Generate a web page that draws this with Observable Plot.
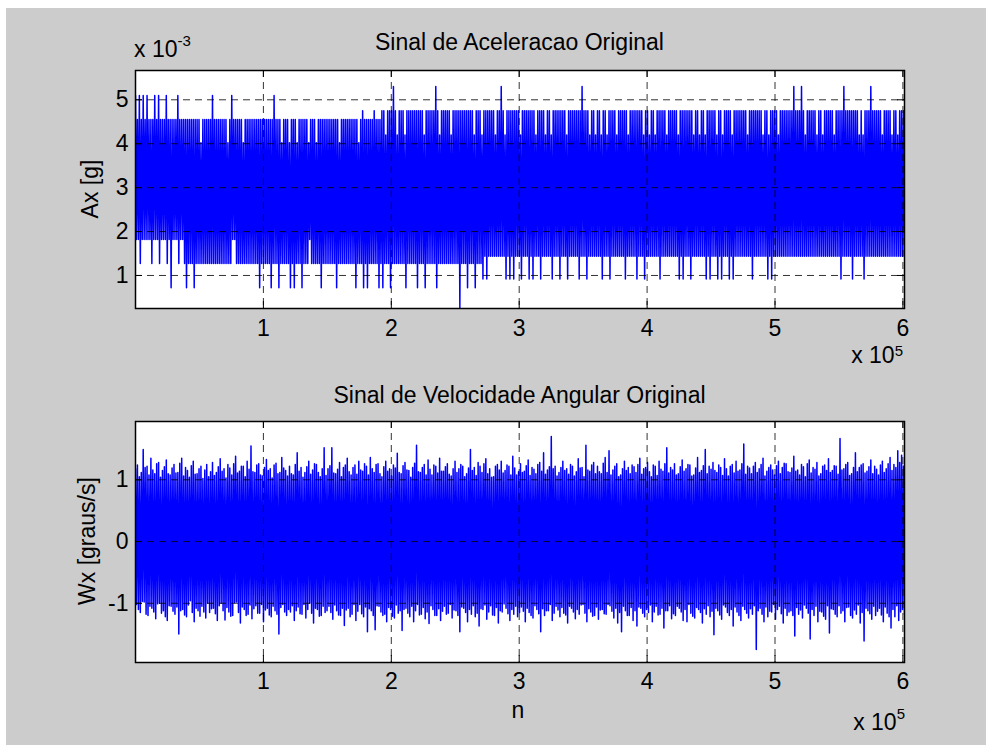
<!DOCTYPE html>
<html>
<head>
<meta charset="utf-8">
<script src="https://cdn.jsdelivr.net/npm/d3@7"></script>
<script src="https://cdn.jsdelivr.net/npm/@observablehq/plot@0.6"></script>
<style>
  html, body { margin: 0; padding: 0; background: #ffffff; }
  #page { position: relative; width: 986px; height: 745px; overflow: hidden; }
  #bg { position: absolute; left: 6px; top: 8px; width: 980px; height: 737px; background: #cccccc; }
  .panel { position: absolute; left: 0; }
  #labels { position: absolute; left: 0; top: 0; pointer-events: none; }
</style>
</head>
<body>
<div id="page">
  <div id="bg"></div>
  <div id="top" class="panel" style="top:0px"></div>
  <div id="bottom" class="panel" style="top:380px"></div>
  <svg id="labels" width="986" height="745"></svg>
</div>
<script>
// Sample index range of the recording
const nFirst = 1;
const nLast = 601250;

// Tick values
const xTicks = [100000, 200000, 300000, 400000, 500000, 600000];
const axTicks = [1, 2, 3, 4, 5];
const wxTicks = [-1, 0, 1];

// Accelerometer Ax, in units of 10^-3 g: successive high / low excursions along the record
const axHigh = [
  5.10, 4.55, 5.10, 4.55, 5.10, 4.55, 5.10, 4.55, 4.55, 4.55, 5.10, 4.55, 5.10, 4.55, 4.55, 4.55, 5.10, 4.55, 4.55, 4.55,
  4.55, 4.55, 5.10, 4.55, 4.55, 4.55, 4.55, 4.55, 4.55, 4.55, 4.55, 4.55, 4.55, 4.55, 4.02, 4.55, 4.55, 4.55, 4.55, 4.55,
  5.10, 4.55, 4.55, 4.55, 4.55, 4.55, 4.55, 4.55, 4.02, 4.55, 5.10, 4.55, 4.55, 4.55, 4.55, 4.55, 4.02, 4.55, 4.55, 4.55,
  4.55, 4.55, 4.55, 4.55, 4.55, 4.55, 4.55, 4.55, 4.55, 4.55, 4.55, 4.55, 5.10, 4.55, 4.55, 4.55, 4.02, 4.55, 4.55, 4.55,
  4.02, 4.55, 4.55, 4.55, 4.02, 4.55, 4.55, 4.55, 4.55, 4.55, 4.02, 4.55, 4.55, 4.55, 4.02, 4.55, 4.55, 4.55, 4.55, 4.55,
  4.55, 4.55, 4.55, 4.55, 4.55, 4.55, 4.02, 4.55, 4.55, 4.55, 4.55, 4.55, 4.55, 4.55, 4.55, 4.55, 4.02, 4.55, 4.75, 4.55,
  4.55, 4.55, 4.55, 4.55, 4.75, 4.55, 4.55, 4.55, 4.75, 4.75, 4.20, 4.75, 4.75, 4.75, 5.30, 4.75, 4.20, 4.75, 4.75, 4.75,
  4.20, 4.75, 4.75, 4.75, 4.75, 4.75, 4.75, 4.75, 4.75, 4.75, 4.20, 4.75, 4.75, 4.75, 4.75, 4.75, 5.30, 4.75, 4.20, 4.75,
  4.75, 4.75, 4.75, 4.75, 4.20, 4.75, 4.75, 4.75, 4.75, 4.75, 4.75, 4.75, 4.75, 4.75, 4.75, 4.75, 4.20, 4.75, 4.75, 4.75,
  4.20, 4.75, 4.75, 4.75, 4.75, 4.75, 4.75, 4.20, 4.75, 4.75, 5.30, 4.75, 4.20, 4.75, 4.75, 4.75, 4.75, 4.75, 4.75, 4.75,
  4.20, 4.75, 4.75, 4.75, 4.75, 4.75, 4.75, 4.75, 4.20, 4.75, 4.75, 4.75, 4.75, 4.20, 4.75, 4.75, 4.20, 4.75, 4.75, 4.75,
  4.75, 4.75, 4.75, 4.75, 4.20, 4.75, 4.75, 4.75, 4.75, 4.75, 4.75, 4.75, 5.30, 4.75, 4.75, 4.75, 4.20, 4.75, 4.75, 4.20,
  4.75, 4.75, 4.20, 4.75, 4.75, 4.20, 4.75, 4.75, 4.75, 4.75, 4.20, 4.75, 4.75, 4.75, 4.75, 4.75, 4.20, 4.75, 4.75, 4.75,
  4.75, 4.75, 4.75, 4.75, 4.20, 4.75, 4.75, 4.20, 4.75, 4.75, 4.20, 4.75, 4.75, 4.75, 4.75, 4.75, 4.20, 4.75, 4.75, 4.75,
  4.75, 4.75, 4.20, 4.75, 4.75, 4.75, 4.75, 4.75, 4.75, 4.75, 4.20, 4.75, 4.75, 4.20, 4.75, 4.75, 4.20, 4.75, 4.75, 4.75,
  4.75, 4.75, 4.20, 4.75, 4.75, 4.20, 4.75, 4.75, 4.75, 4.75, 4.20, 4.75, 4.75, 4.75, 4.75, 4.75, 4.75, 4.75, 4.20, 4.75,
  4.75, 4.75, 4.75, 4.75, 4.75, 4.75, 4.20, 4.75, 4.75, 4.20, 4.75, 4.75, 4.75, 4.75, 4.20, 4.75, 4.75, 4.75, 4.75, 4.75,
  4.75, 4.75, 5.30, 4.75, 4.75, 4.75, 5.30, 4.75, 4.20, 4.75, 4.75, 4.75, 4.75, 4.75, 4.20, 4.75, 4.75, 4.20, 4.75, 4.75,
  4.75, 4.75, 4.75, 4.20, 4.75, 4.75, 4.75, 4.75, 5.30, 4.75, 4.75, 4.75, 4.75, 4.75, 4.75, 4.75, 4.20, 4.75, 4.20, 4.75,
  4.75, 4.75, 5.30, 4.75, 4.75, 4.75, 4.75, 4.75, 4.20, 4.75, 4.75, 4.75, 4.75, 4.20, 4.75, 4.75, 4.20, 4.75, 4.75, 4.75
];
const axLow = [
  1.82, 1.82, 1.27, 1.82, 1.82, 1.82, 1.82, 1.82, 1.27, 1.82, 1.82, 1.82, 1.27, 1.82, 1.82, 1.82, 1.27, 1.82, 0.72, 1.82,
  1.82, 1.82, 1.27, 1.82, 1.82, 1.27, 0.72, 1.27, 1.27, 1.27, 0.72, 1.27, 1.27, 1.27, 1.27, 1.27, 1.27, 1.27, 1.27, 1.27,
  1.27, 1.27, 1.27, 1.27, 1.27, 1.27, 1.27, 1.27, 1.27, 1.27, 1.82, 1.82, 1.27, 1.27, 1.27, 1.27, 1.27, 1.27, 1.27, 1.27,
  1.27, 1.27, 1.27, 1.27, 0.72, 1.27, 1.27, 1.27, 1.27, 1.27, 0.72, 1.27, 1.27, 1.27, 0.72, 1.27, 1.27, 1.27, 1.27, 1.27,
  0.72, 1.27, 0.72, 1.27, 1.27, 1.27, 0.72, 1.27, 1.27, 1.27, 1.82, 1.27, 1.27, 1.27, 1.27, 1.27, 0.72, 1.27, 1.27, 1.27,
  1.27, 1.27, 1.27, 1.27, 0.72, 1.27, 1.27, 1.27, 1.27, 1.27, 1.27, 1.27, 1.27, 1.27, 0.72, 1.27, 1.27, 1.27, 0.72, 1.27,
  0.72, 1.27, 1.27, 1.27, 1.27, 1.27, 0.72, 1.27, 0.72, 1.27, 1.27, 1.27, 0.72, 1.27, 1.27, 1.27, 1.27, 1.27, 1.27, 1.27,
  0.72, 1.27, 1.27, 1.27, 1.27, 1.27, 0.72, 1.27, 1.27, 1.27, 0.72, 1.27, 1.27, 1.27, 1.27, 1.27, 0.72, 1.27, 1.27, 1.27,
  1.27, 1.27, 1.27, 1.27, 1.27, 1.27, 1.27, 1.27, 0.25, 1.27, 1.27, 1.27, 0.72, 1.27, 1.27, 1.27, 0.72, 1.27, 1.27, 1.27,
  0.92, 1.44, 0.92, 1.44, 1.44, 1.44, 1.44, 1.44, 1.44, 1.44, 1.44, 1.44, 0.92, 1.44, 0.92, 1.44, 0.92, 1.44, 1.44, 1.44,
  0.92, 1.44, 1.44, 1.44, 0.92, 1.44, 0.92, 1.44, 1.44, 1.44, 0.92, 1.44, 1.44, 1.44, 1.44, 1.44, 0.92, 1.44, 1.44, 1.44,
  0.92, 1.44, 1.44, 1.44, 0.92, 1.44, 1.44, 1.44, 1.44, 1.44, 0.92, 1.44, 1.44, 1.44, 0.92, 1.44, 1.44, 1.44, 1.44, 1.44,
  1.44, 1.44, 0.92, 1.44, 1.44, 1.44, 0.92, 1.44, 1.44, 1.44, 1.44, 1.44, 1.44, 1.44, 0.92, 1.44, 1.44, 1.44, 1.44, 1.44,
  0.92, 1.44, 1.44, 1.44, 0.92, 1.44, 1.44, 1.44, 1.44, 1.44, 1.44, 1.44, 0.92, 1.44, 1.44, 1.44, 1.44, 1.44, 1.44, 1.44,
  1.44, 1.44, 0.92, 1.44, 0.92, 1.44, 1.44, 1.44, 0.92, 1.44, 1.44, 1.44, 1.44, 1.44, 1.44, 1.44, 0.92, 1.44, 0.92, 1.44,
  1.44, 1.44, 0.92, 1.44, 0.92, 1.44, 1.44, 1.44, 0.92, 1.44, 0.92, 1.44, 1.44, 1.44, 1.44, 1.44, 1.44, 1.44, 1.44, 1.44,
  0.92, 1.44, 1.44, 1.44, 1.44, 1.44, 1.44, 1.44, 0.92, 1.44, 0.92, 1.44, 1.44, 1.44, 1.44, 1.44, 1.44, 1.44, 1.44, 1.44,
  1.44, 1.44, 1.44, 1.44, 1.44, 1.44, 1.44, 1.44, 1.44, 1.44, 1.44, 1.44, 1.44, 1.44, 1.44, 1.44, 1.44, 1.44, 1.44, 1.44,
  1.44, 1.44, 1.44, 1.44, 1.44, 1.44, 0.92, 1.44, 1.44, 1.44, 1.44, 1.44, 0.92, 1.44, 1.44, 1.44, 1.44, 1.44, 0.92, 1.44,
  1.44, 1.44, 1.44, 1.44, 1.44, 1.44, 1.44, 1.44, 1.44, 1.44, 1.44, 1.44, 1.44, 1.44, 1.44, 1.44, 1.44, 1.44, 1.44, 1.44
];

// Gyro Wx, in degrees per second: successive high / low excursions along the record
const wxHigh = [
  1.18, 1.24, 1.05, 1.12, 1.49, 1.20, 1.22, 1.08, 1.35, 1.16, 1.10, 1.26, 1.28, 1.04, 1.15, 1.21, 1.32, 1.10, 1.08, 1.19,
  1.25, 1.11, 1.12, 1.27, 1.35, 1.06, 1.20, 1.15, 1.04, 1.23, 1.30, 1.09, 1.10, 1.18, 1.22, 1.02, 1.16, 1.25, 1.05, 1.13,
  1.28, 1.07, 1.12, 1.21, 1.34, 1.14, 1.18, 1.03, 1.25, 1.19, 1.08, 1.26, 1.38, 1.11, 1.14, 1.22, 1.22, 1.05, 1.30, 1.17,
  1.55, 1.13, 1.12, 1.24, 1.26, 1.08, 1.06, 1.20, 1.33, 1.15, 1.18, 1.03, 1.24, 1.27, 1.10, 1.12, 1.36, 1.19, 1.15, 1.06,
  1.22, 1.10, 1.08, 1.25, 1.44, 1.14, 1.20, 1.04, 1.12, 1.21, 1.30, 1.09, 1.16, 1.26, 1.25, 1.12, 1.05, 1.18, 1.52, 1.07,
  1.18, 1.23, 1.52, 1.11, 1.10, 1.17, 1.28, 1.05, 1.20, 1.24, 1.35, 1.13, 1.08, 1.20, 1.24, 1.09, 1.30, 1.16, 1.14, 1.26,
  1.22, 1.08, 1.36, 1.18, 1.12, 1.25, 1.26, 1.10, 1.05, 1.21, 1.30, 1.14, 1.18, 1.06, 1.24, 1.19, 1.43, 1.12, 1.10, 1.23,
  1.28, 1.16, 1.15, 1.04, 1.20, 1.27, 1.56, 1.13, 1.12, 1.20, 1.25, 1.08, 1.32, 1.17, 1.08, 1.24, 1.22, 1.11, 1.35, 1.14,
  1.14, 1.21, 1.26, 1.09, 1.06, 1.18, 1.30, 1.12, 1.18, 1.25, 1.22, 1.05, 1.10, 1.19, 1.49, 1.15, 1.20, 1.07, 1.28, 1.22,
  1.12, 1.26, 1.34, 1.10, 1.18, 1.04, 1.05, 1.22, 1.25, 1.16, 1.30, 1.11, 1.15, 1.24, 1.22, 1.08, 1.38, 1.19, 1.08, 1.13,
  1.26, 1.12, 1.14, 1.23, 1.32, 1.07, 1.20, 1.17, 1.10, 1.25, 1.28, 1.14, 1.44, 1.09, 1.16, 1.21, 1.70, 1.18, 1.22, 1.06,
  1.12, 1.20, 1.30, 1.15, 1.18, 1.09, 1.25, 1.22, 1.06, 1.13, 1.34, 1.19, 1.20, 1.05, 1.56, 1.16, 1.14, 1.24, 1.28, 1.10,
  1.22, 1.13, 1.10, 1.27, 1.36, 1.12, 1.47, 1.08, 1.16, 1.22, 1.26, 1.05, 1.08, 1.18, 1.30, 1.15, 1.20, 1.10, 1.24, 1.21,
  1.12, 1.25, 1.35, 1.09, 1.18, 1.20, 1.28, 1.13, 1.05, 1.24, 1.22, 1.07, 1.30, 1.17, 1.14, 1.26, 1.52, 1.11, 1.20, 1.16,
  1.26, 1.08, 1.10, 1.21, 1.32, 1.14, 1.18, 1.25, 1.24, 1.06, 1.08, 1.19, 1.36, 1.12, 1.15, 1.23, 1.49, 1.10, 1.22, 1.17,
  1.28, 1.15, 1.12, 1.24, 1.20, 1.07, 1.34, 1.18, 1.06, 1.22, 1.25, 1.11, 1.30, 1.14, 1.16, 1.26, 1.58, 1.09, 1.22, 1.19,
  1.10, 1.22, 1.28, 1.12, 1.18, 1.25, 1.35, 1.06, 1.14, 1.20, 1.24, 1.16, 1.08, 1.23, 1.30, 1.10, 1.20, 1.27, 1.26, 1.13,
  1.12, 1.19, 1.38, 1.14, 1.16, 1.08, 1.25, 1.21, 1.05, 1.26, 1.32, 1.11, 1.20, 1.17, 1.28, 1.06, 1.10, 1.22, 1.24, 1.15,
  1.34, 1.12, 1.15, 1.23, 1.22, 1.09, 1.67, 1.16, 1.18, 1.25, 1.28, 1.07, 1.10, 1.20, 1.44, 1.13, 1.20, 1.24, 1.26, 1.11,
  1.14, 1.21, 1.32, 1.10, 1.22, 1.17, 1.08, 1.24, 1.30, 1.12, 1.18, 1.26, 1.36, 1.15, 1.25, 1.20, 1.47, 1.28, 1.40, 1.22
];
const wxLow = [
  -1.02, -1.10, -1.15, -0.97, -0.98, -1.18, -1.20, -1.05, -1.08, -1.14, -1.25, -1.01, -1.00, -1.16, -1.12, -1.22, -1.28, -1.04, -1.05, -1.13,
  -1.18, -1.06, -1.50, -1.12, -1.10, -1.19, -1.22, -1.03, -0.96, -1.15, -1.30, -1.08, -1.12, -1.21, -1.05, -1.14, -1.24, -1.00, -1.15, -1.09,
  -1.08, -1.17, -1.28, -1.04, -1.00, -1.12, -1.27, -1.07, -1.14, -1.21, -1.20, -0.99, -0.98, -1.15, -1.32, -1.06, -1.10, -1.20, -1.18, -1.03,
  -1.25, -1.09, -1.04, -1.16, -1.16, -1.02, -1.30, -1.11, -1.08, -1.19, -1.22, -1.05, -1.12, -1.18, -1.50, -1.07, -1.02, -1.14, -1.20, -1.10,
  -1.14, -1.04, -1.28, -1.12, -1.06, -1.17, -1.18, -1.02, -1.24, -1.10, -1.00, -1.16, -1.32, -1.08, -1.10, -1.21, -1.20, -1.05, -1.15, -1.12,
  -1.05, -1.15, -1.26, -1.03, -1.12, -1.19, -1.20, -1.08, -1.36, -1.11, -1.08, -1.22, -1.18, -1.02, -1.28, -1.13, -1.02, -1.17, -1.22, -1.06,
  -1.46, -1.09, -1.12, -1.20, -1.43, -1.04, -1.05, -1.14, -1.20, -1.18, -1.30, -1.07, -1.10, -1.21, -1.24, -1.03, -1.16, -1.12, -1.44, -1.10,
  -1.08, -1.16, -1.22, -1.05, -1.30, -1.12, -1.02, -1.19, -1.18, -1.07, -1.25, -1.14, -1.33, -1.04, -1.10, -1.20, -1.20, -1.09, -1.28, -1.13,
  -1.05, -1.18, -1.16, -1.02, -1.24, -1.11, -1.12, -1.20, -1.46, -1.06, -1.08, -1.15, -1.30, -1.10, -1.18, -1.04, -1.22, -1.16, -1.37, -1.09,
  -1.10, -1.03, -1.26, -1.14, -1.04, -1.19, -1.20, -1.07, -1.32, -1.12, -1.14, -1.01, -1.08, -1.17, -1.28, -1.10, -1.18, -1.05, -1.22, -1.15,
  -1.06, -1.13, -1.30, -1.08, -1.15, -1.20, -1.24, -1.04, -1.10, -1.17, -1.46, -1.09, -1.20, -1.12, -1.12, -1.02, -1.28, -1.16, -1.05, -1.11,
  -1.22, -1.07, -1.16, -1.19, -1.32, -1.05, -1.08, -1.14, -1.25, -1.10, -1.18, -1.03, -1.02, -1.16, -1.30, -1.09, -1.14, -1.21, -1.20, -1.06,
  -1.26, -1.11, -1.10, -1.17, -1.18, -1.02, -1.04, -1.13, -1.24, -1.08, -1.32, -1.15, -1.46, -1.05, -1.12, -1.20, -1.20, -1.07, -1.28, -1.12,
  -1.37, -1.06, -1.08, -1.16, -1.22, -1.10, -1.15, -1.03, -1.30, -1.14, -1.05, -1.19, -1.18, -1.08, -1.40, -1.12, -1.12, -1.04, -1.25, -1.17,
  -1.20, -1.05, -1.08, -1.14, -1.28, -1.10, -1.30, -1.02, -1.16, -1.21, -1.24, -1.07, -1.10, -1.15, -1.32, -1.09, -1.18, -1.04, -1.22, -1.13,
  -1.51, -1.08, -1.12, -1.19, -1.26, -1.03, -1.06, -1.15, -1.20, -1.10, -1.37, -1.06, -1.14, -1.20, -1.28, -1.05, -1.10, -1.16, -1.24, -1.09,
  -1.18, -1.04, -1.75, -1.12, -1.08, -1.18, -1.30, -1.06, -1.22, -1.13, -1.14, -1.02, -1.26, -1.10, -1.05, -1.17, -1.32, -1.08, -1.20, -1.14,
  -1.12, -1.20, -1.53, -1.07, -1.18, -1.11, -1.24, -1.03, -1.08, -1.16, -1.58, -1.10, -1.20, -1.05, -1.30, -1.13, -1.14, -1.21, -1.26, -1.04,
  -1.48, -1.09, -1.10, -1.18, -1.22, -1.04, -1.16, -1.12, -1.30, -1.07, -1.06, -1.20, -1.24, -1.11, -1.18, -1.03, -1.32, -1.15, -1.61, -1.08,
  -1.12, -1.17, -1.26, -1.05, -1.20, -1.13, -1.08, -1.19, -1.30, -1.06, -1.16, -1.22, -1.40, -1.10, -1.22, -1.04, -1.28, -1.14, -1.10, -1.18
];

// Interleave the high / low excursions into one trace laid out over the sample index
function trace(high, low) {
  const values = high.flatMap((h, i) => [h, low[i]]);
  const step = (nLast - nFirst) / (values.length - 1);
  return values.map((v, k) => ({n: nFirst + k * step, v}));
}

const FONT = "'Liberation Sans', Arial, Helvetica, sans-serif";
const INK = "#000000";
const GRID = {stroke: INK, strokeOpacity: 0.8, strokeWidth: 1, strokeDasharray: "7,5"};

function panel({data, yDomain, yTicks, height, marginTop, marginBottom, xPad}) {
  const marginLeft = 135, marginRight = 82, width = 986;
  const innerH = height - marginTop - marginBottom;
  const innerW = width - marginLeft - marginRight;
  const tick = 7;
  return Plot.plot({
    width, height, marginLeft, marginRight, marginTop, marginBottom,
    style: `background: transparent; font-family: ${FONT}; font-size: 23px; color: ${INK}; overflow: visible;`,
    x: {domain: [nFirst, nLast]},
    y: {domain: yDomain},
    marks: [
      Plot.frame({fill: "#ffffff", stroke: "none"}),
      Plot.line(data, {x: "n", y: "v", stroke: "#0000ff", strokeWidth: 1.5, clip: true}),
      Plot.gridX(xTicks, GRID),
      Plot.gridY(yTicks, GRID),
      Plot.tickX(xTicks, {x: d => d, insetBottom: innerH - tick, stroke: INK}),
      Plot.tickX(xTicks, {x: d => d, insetTop: innerH - tick, stroke: INK}),
      Plot.tickY(yTicks, {y: d => d, insetRight: innerW - tick, stroke: INK}),
      Plot.tickY(yTicks, {y: d => d, insetLeft: innerW - tick, stroke: INK}),
      Plot.frame({stroke: INK, strokeWidth: 1.5}),
      Plot.axisX(xTicks, {tickSize: 0, tickPadding: xPad, tickFormat: d => String(d / 1e5), label: null}),
      Plot.axisY(yTicks, {tickSize: 0, tickPadding: 7, tickFormat: d => String(d), label: null})
    ]
  });
}

document.getElementById("top").appendChild(panel({
  data: trace(axHigh, axLow),
  yDomain: [0.248, 5.667],
  yTicks: axTicks,
  height: 380, marginTop: 70, marginBottom: 72, xPad: 11
}));

document.getElementById("bottom").appendChild(panel({
  data: trace(wxHigh, wxLow),
  yDomain: [-1.96, 1.945],
  yTicks: wxTicks,
  height: 365, marginTop: 41, marginBottom: 83, xPad: 10
}));

// Titles, axis labels and scale multipliers
const svg = d3.select("#labels")
  .style("font-family", FONT)
  .style("font-size", "23px")
  .attr("fill", INK);

svg.append("text").attr("x", 519.5).attr("y", 50).attr("text-anchor", "middle")
  .text("Sinal de Aceleracao Original");
svg.append("text").attr("x", 519.5).attr("y", 403).attr("text-anchor", "middle")
  .text("Sinal de Velocidade Angular Original");
svg.append("text").attr("x", 518).attr("y", 718).attr("text-anchor", "middle").text("n");

svg.append("text").attr("transform", "translate(98,189) rotate(-90)").attr("text-anchor", "middle")
  .text("Ax [g]");
svg.append("text").attr("transform", "translate(95,541) rotate(-90)").attr("text-anchor", "middle")
  .text("Wx [graus/s]");

function multiplier(x, y, exponent, anchor, rise) {
  const t = svg.append("text").attr("x", x).attr("y", y).attr("text-anchor", anchor);
  t.append("tspan").text("x 10");
  t.append("tspan").attr("dy", -rise).style("font-size", "15px").text(exponent);
}
multiplier(134, 57, "-3", "start", 11);
multiplier(903, 363, "5", "end", 7);
multiplier(905, 730, "5", "end", 11);
</script>
</body>
</html>
